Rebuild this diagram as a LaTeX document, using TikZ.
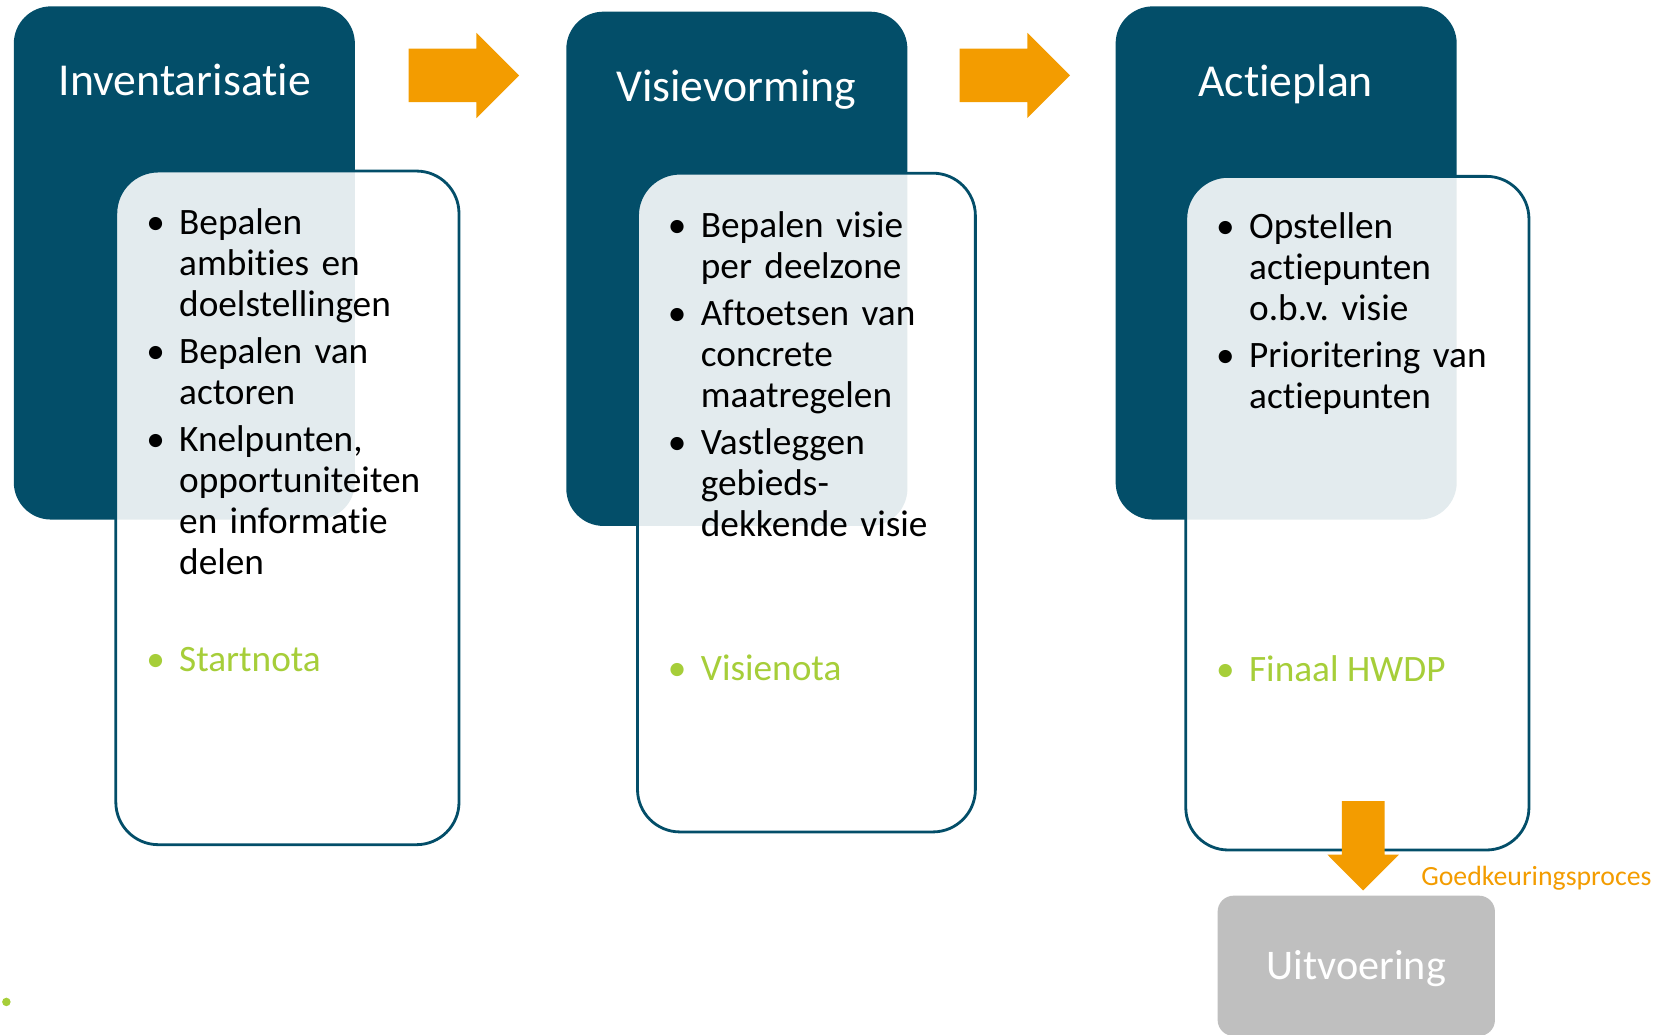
\documentclass[tikz,border=0pt]{standalone}
\usepackage{fontspec}
\setmainfont{Carlito}[Ligatures=NoCommon]
\usepackage{tikz}
\usetikzlibrary{shapes.arrows}

\definecolor{fasedark}{HTML}{034E69}
\definecolor{flow}{HTML}{F39C00}
\definecolor{nota}{HTML}{A6CE39}
\definecolor{uitv}{HTML}{BFBFBF}

\newlength\px
\setlength\px{0.010625cm}

% one bullet item with hanging indent
\newcommand{\bul}[1]{\par\noindent\hangindent=31\px\hangafter=1\hbox to 31\px{\textbullet\hfil}#1\par}

\tikzset{
    darkbox/.style={draw=none, fill=fasedark, rounded corners=35\px, inner sep=0pt},
    notebox/.style={draw=fasedark, line width=0.8pt, fill=white, fill opacity=0.89, rounded corners=40\px, inner sep=0pt},
    fasetitle/.style={text=white, font=\fontsize{13}{15}\selectfont},
    items/.style={anchor=north west, inner sep=0pt, text width=300\px, align=left,
        font=\fontsize{10.6}{11.7}\selectfont\frenchspacing\setlength{\parskip}{1.6pt}},
    notetext/.style={anchor=west, inner sep=0pt, text=nota, font=\fontsize{10.6}{11.7}\selectfont},
    flowarrow/.style={single arrow, fill=flow, draw=none, inner xsep=0pt, inner ysep=24.5\px,
        minimum height=104\px, single arrow head extend=15\px}
}

\begin{document}
\begin{tikzpicture}[x=1\px, y=-1\px]
        \useasboundingbox (0,0) rectangle (1568,974);

        % fase boxes
        \node [darkbox, minimum width=321\px, minimum height=483\px] (inv) at (173.5, 247.5) {};
        \node [darkbox, minimum width=321\px, minimum height=484\px] (vis) at (693.5, 253) {};
        \node [darkbox, minimum width=321\px, minimum height=483\px] (act) at (1210.5, 247.5) {};

        \node [notebox, minimum width=323\px, minimum height=634\px] (invnote) at (270.5, 478) {};
        \node [notebox, minimum width=318\px, minimum height=620\px] (visnote) at (759, 473) {};
        \node [notebox, minimum width=323\px, minimum height=634\px] (actnote) at (1277.5, 483) {};

        \node [fasetitle] (invt) at (174, 75) {Inventarisatie};
        \node [fasetitle] (vist) at (693, 84) {Visievorming};
        \node [fasetitle] (actt) at (1210, 79) {Actieplan};

        % arrows between the fases
        \node [flowarrow] (a1) at (424, 71) {};
        \node [flowarrow] (a2) at (942.5, 71) {};

        % items
        \node [items] (invitems) at (137, 176) {%
            \bul{Bepalen\newline ambities en\newline doelstellingen}
            \bul{Bepalen van\newline actoren}
            \bul{Knelpunten,\newline opportuniteiten\newline en informatie\newline delen}};
        \node [items] (visitems) at (628, 179) {%
            \bul{Bepalen visie\newline per deelzone}
            \bul{Aftoetsen van\newline concrete\newline maatregelen}
            \bul{Vastleggen\newline gebieds-\newline dekkende visie}};
        \node [items] (actitems) at (1144, 180) {%
            \bul{Opstellen\newline actiepunten\newline o.b.v. visie}
            \bul{Prioritering van\newline actiepunten}};

        \node [notetext] (invnota) at (137, 621) {\hbox to 31\px{\textbullet\hfil}Startnota};
        \node [notetext] (visnota) at (628, 629) {\hbox to 31\px{\textbullet\hfil}Visienota};
        \node [notetext] (actnota) at (1144, 629) {\hbox to 31\px{\textbullet\hfil}Finaal HWDP};

        % uitvoering
        \node [fill=uitv, rounded corners=15\px, minimum width=261\px, minimum height=132\px,
            text height=9pt, text depth=1pt,
            text=white, font=\fontsize{12}{14}\selectfont] (uit) at (1276.5, 909) {Uitvoering};
        \node [single arrow, fill=flow, draw=none, inner xsep=0pt, inner ysep=19.5\px, rotate=-90,
            minimum height=84\px, single arrow head extend=13.5\px] (a3) at (1283, 786) {};
        \node [anchor=west, inner sep=0pt, text=flow, font=\fontsize{7.9}{9}\selectfont] (goed) at (1337, 827) {Goedkeuringsproces};

        \node [circle, fill=nota, inner sep=0pt, minimum size=8\px] (dot) at (6, 943) {};
    \end{tikzpicture}
\end{document}
